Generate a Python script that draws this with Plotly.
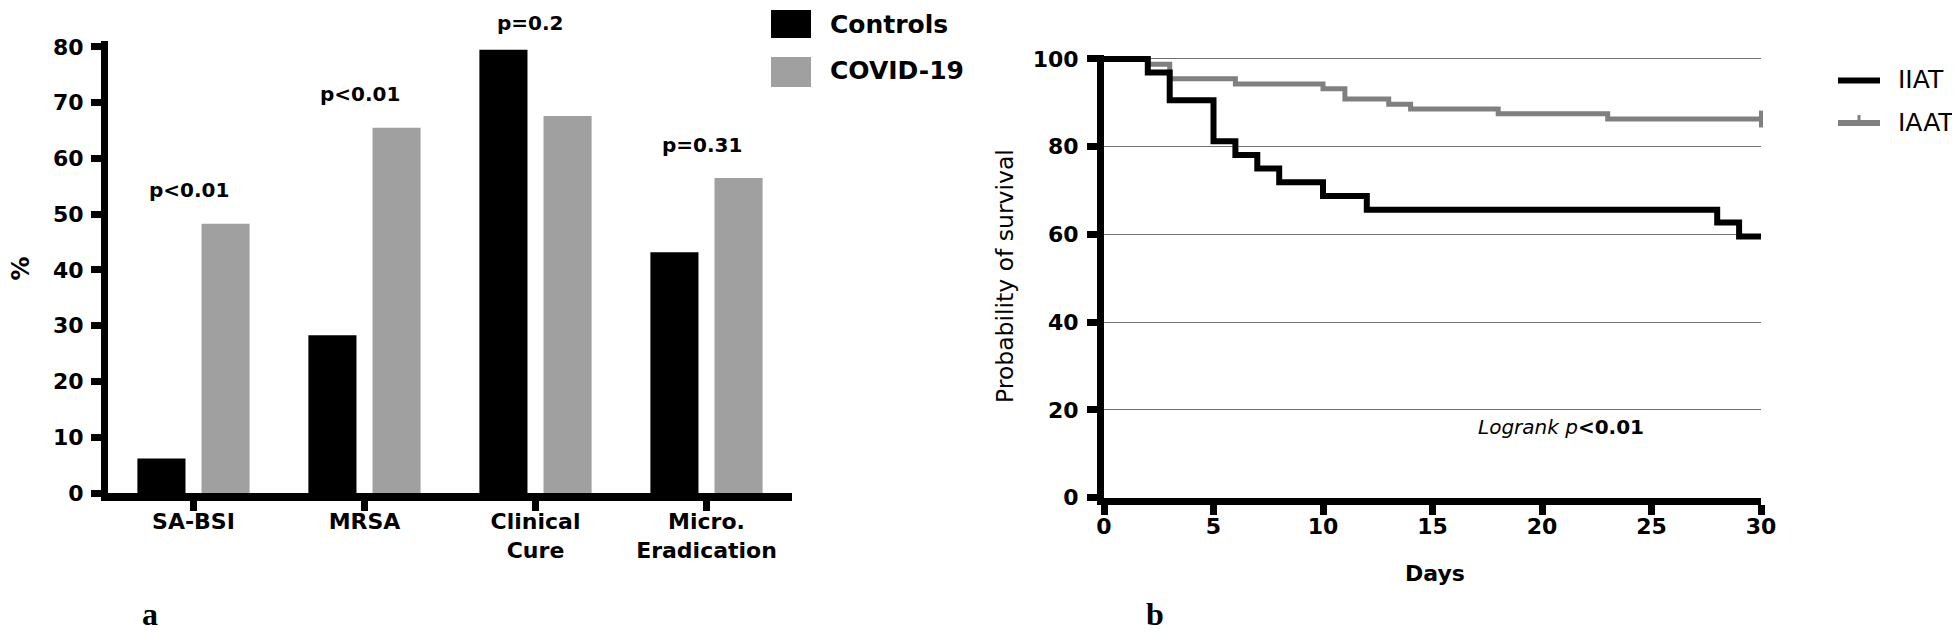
import plotly.graph_objects as go

# ---------------- data ----------------
categories = ["SA-BSI", "MRSA", "Clinical<br>Cure", "Micro.<br>Eradication"]
controls = [6.2, 28.3, 79.5, 43.2]
covid19 = [48.3, 65.5, 67.6, 56.5]
p_labels = ["p<0.01", "p<0.01", "p=0.2", "p=0.31"]
bar_ticks = [0, 10, 20, 30, 40, 50, 60, 70, 80]

iiat_days = [0, 2, 3, 5, 6, 7, 8, 10, 12, 28, 29, 30]
iiat_surv = [100, 96.9, 90.6, 81.25, 78.1, 75.0, 71.9, 68.75, 65.6, 62.7, 59.5, 59.5]
iaat_days = [0, 2, 3, 6, 10, 11, 13, 14, 18, 23, 30]
iaat_surv = [100, 98.8, 95.5, 94.3, 93.2, 90.9, 89.7, 88.6, 87.5, 86.3, 86.3]
iaat_censor_days = [30]
iaat_censor_surv = [86.3]
km_xticks = [0, 5, 10, 15, 20, 25, 30]
km_yticks = [0, 20, 40, 60, 80, 100]

# ---------------- layout helpers ----------------
W, H = 1960, 637
def px(x):
    return x / W
def py(y):
    return 1 - y / H

BLACK = "#000000"
GRAY_BAR = "#a0a0a0"
GRAY_LINE = "#808080"
BOLD = dict(family="DejaVu Sans", color="black", weight="bold")

Y1_RANGE = [0, 81]
Y1_DOMAIN = [py(485), py(33.4)]
def y1_to_paper(v):
    return Y1_DOMAIN[0] + (v - Y1_RANGE[0]) / (Y1_RANGE[1] - Y1_RANGE[0]) * (Y1_DOMAIN[1] - Y1_DOMAIN[0])

fig = go.Figure()

fig.add_trace(go.Bar(x=categories, y=controls, name="Controls",
                     marker=dict(color=BLACK, line=dict(width=0)),
                     xaxis="x", yaxis="y", showlegend=False))
fig.add_trace(go.Bar(x=categories, y=covid19, name="COVID-19",
                     marker=dict(color=GRAY_BAR, line=dict(width=0)),
                     xaxis="x", yaxis="y", showlegend=False))

fig.add_trace(go.Scatter(x=iaat_days, y=iaat_surv, mode="lines", line_shape="hv",
                         line=dict(color=GRAY_LINE, width=5), name="IAAT",
                         xaxis="x2", yaxis="y2", showlegend=False))
fig.add_trace(go.Scatter(x=iaat_censor_days, y=iaat_censor_surv, mode="markers",
                         marker=dict(symbol="line-ns", size=12,
                                     line=dict(color=GRAY_LINE, width=4)),
                         cliponaxis=False, xaxis="x2", yaxis="y2", showlegend=False))
fig.add_trace(go.Scatter(x=iiat_days, y=iiat_surv, mode="lines", line_shape="hv",
                         line=dict(color=BLACK, width=6), name="IIAT",
                         xaxis="x2", yaxis="y2", showlegend=False))

annotations = []
# p-value labels above each group (y in paper coordinates derived from data,
# kept inside the page)
for cat, c, v, lab in zip(categories, controls, covid19, p_labels):
    annotations.append(dict(x=cat, y=min(y1_to_paper(max(c, v) + 6), py(15)),
                            xref="x", yref="paper",
                            text=lab.replace("<", "&lt;"), showarrow=False,
                            xshift=-5, yanchor="middle",
                            font=dict(size=20, **BOLD)))

shapes = [
    # left legend
    dict(type="rect", xref="paper", yref="paper", x0=px(763), x1=px(803),
         y0=py(30), y1=py(2), fillcolor=BLACK, line=dict(width=0)),
    dict(type="rect", xref="paper", yref="paper", x0=px(763), x1=px(803),
         y0=py(79), y1=py(49), fillcolor=GRAY_BAR, line=dict(width=0)),
    # right legend
    dict(type="line", xref="paper", yref="paper", x0=px(1830), x1=px(1872),
         y0=py(72.5), y1=py(72.5), line=dict(color=BLACK, width=6)),
    dict(type="line", xref="paper", yref="paper", x0=px(1830), x1=px(1872),
         y0=py(115), y1=py(115), line=dict(color=GRAY_LINE, width=6)),
    dict(type="line", xref="paper", yref="paper", x0=px(1851), x1=px(1851),
         y0=py(115), y1=py(107), line=dict(color=GRAY_LINE, width=3)),
]
annotations += [
    dict(x=px(820), y=py(16), xref="paper", yref="paper", text="Controls",
         showarrow=False, xanchor="left", yanchor="middle", font=dict(size=25, **BOLD)),
    dict(x=px(820), y=py(63), xref="paper", yref="paper", text="COVID-19",
         showarrow=False, xanchor="left", yanchor="middle", font=dict(size=25, **BOLD)),
    dict(x=px(1888), y=py(72), xref="paper", yref="paper", text="IIAT",
         showarrow=False, xanchor="left", yanchor="middle",
         font=dict(family="DejaVu Sans", size=25, color="black")),
    dict(x=px(1888), y=py(115), xref="paper", yref="paper", text="IAAT",
         showarrow=False, xanchor="left", yanchor="middle",
         font=dict(family="DejaVu Sans", size=25, color="black")),
    # axis titles
    dict(x=px(12.5), y=py(261), xref="paper", yref="paper", text="%", textangle=-90,
         showarrow=False, xanchor="center", yanchor="middle", font=dict(size=24, **BOLD)),
    dict(x=px(997), y=py(268), xref="paper", yref="paper", text="Probability of survival",
         textangle=-90, showarrow=False, xanchor="center", yanchor="middle",
         font=dict(family="DejaVu Sans", size=23.5, color="black")),
    dict(x=px(1427), y=py(565), xref="paper", yref="paper", text="Days",
         showarrow=False, xanchor="center", yanchor="middle", font=dict(size=22, **BOLD)),
    dict(x=px(1553), y=py(419), xref="paper", yref="paper",
         text="<i>Logrank p</i><b>&lt;0.01</b>",
         showarrow=False, xanchor="center", yanchor="middle",
         font=dict(family="DejaVu Sans", size=20, color="black")),
    # panel letters
    dict(x=px(142), y=py(606), xref="paper", yref="paper", text="<b>a</b>",
         showarrow=False, xanchor="center", yanchor="middle",
         font=dict(family="Liberation Serif", size=32, color="black")),
    dict(x=px(1147), y=py(606), xref="paper", yref="paper", text="<b>b</b>",
         showarrow=False, xanchor="center", yanchor="middle",
         font=dict(family="Liberation Serif", size=32, color="black")),
]

axis_common = dict(showline=True, linecolor="black", ticks="outside",
                   tickcolor="black", zeroline=False, tickfont=dict(size=22, **BOLD))

fig.update_layout(
    width=W, height=H,
    margin=dict(l=0, r=0, t=0, b=0, autoexpand=False),
    paper_bgcolor="white", plot_bgcolor="white",
    barmode="group", bargap=0.25, bargroupgap=0.25,
    showlegend=False,
    xaxis=dict(domain=[px(100), px(784)], anchor="y", type="category",
               range=[-0.5, 3.5], linewidth=8, tickwidth=7, ticklen=10,
               ticklabelstandoff=-8, showgrid=False, **axis_common),
    yaxis=dict(domain=Y1_DOMAIN, anchor="x", range=Y1_RANGE,
               tickvals=bar_ticks, linewidth=7, tickwidth=7, ticklen=10,
               ticklabelstandoff=3, showgrid=False, **axis_common),
    xaxis2=dict(domain=[px(1096), px(1753)], anchor="y2", range=[0, 30],
                tickvals=km_xticks, linewidth=7, tickwidth=7, ticklen=10,
                ticklabelstandoff=-7, showgrid=False, **axis_common),
    yaxis2=dict(domain=[py(489.5), py(46.6)], anchor="x2", range=[0, 101],
                tickvals=km_yticks, linewidth=7, tickwidth=7, ticklen=10,
                ticklabelstandoff=4,
                showgrid=True, gridcolor="#707070", gridwidth=1.3, **axis_common),
    shapes=shapes,
    annotations=annotations,
)

fig.write_html("out.html")
